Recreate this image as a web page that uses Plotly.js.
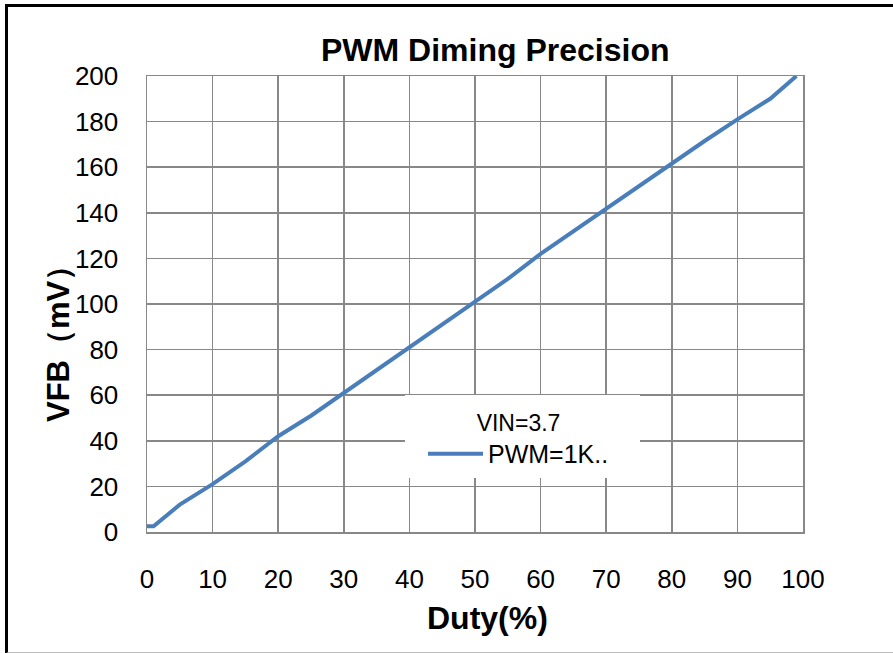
<!DOCTYPE html>
<html>
<head>
<meta charset="utf-8">
<script src="https://cdn.plot.ly/plotly-3.0.1.min.js"></script>
<style>
html,body{margin:0;padding:0;background:#fff;}
#wrap{position:relative;width:893px;height:653px;overflow:hidden;}
#chart{position:absolute;left:0;top:0;width:893px;height:653px;}
#frame{position:absolute;left:5px;top:4px;width:900px;height:645px;border-top:3px solid #000;border-left:3px solid #000;border-bottom:2px solid #bbb;pointer-events:none;}
</style>
</head>
<body>
<div id="wrap"><div id="chart"></div><div id="frame"></div></div>
<script>
const duty = [0, 1, 5, 10, 15, 20, 25, 30, 35, 40, 45, 50, 55, 60, 65, 70, 75, 80, 85, 90, 95, 99];
const vfb = [2.5, 2.5, 12, 21, 31, 42, 51, 61, 71, 81.5, 91, 101, 111, 122, 132, 142, 152, 162, 171.5, 181, 190, 200];
const xTicks = [0, 10, 20, 30, 40, 50, 60, 70, 80, 90, 100];
const yTicks = [0, 20, 40, 60, 80, 100, 120, 140, 160, 180, 200];
const seriesName = "PWM=1K..";
const legendTitle = "VIN=3.7";
const chartTitle = "PWM Diming Precision";
const xTitle = "Duty(%)";
const yTitle = "VFB（mV）";

const font = "Liberation Sans, Arial, sans-serif";
const trace = {
  x: duty, y: vfb, type: 'scatter', mode: 'lines', name: seriesName,
  line: {color: '#4a7ebb', width: 4}, cliponaxis: false
};
const W = 893, H = 653, L = 147, R = 90, T = 76, B = 121;
const pw = W - L - R, ph = H - T - B;
const px = v => (v - L) / pw;
const py = v => (532 - v) / ph;
const layout = {
  width: W, height: H,
  margin: {l: L, r: R, t: T, b: B},
  paper_bgcolor: '#fff', plot_bgcolor: '#fff',
  font: {family: font, size: 24, color: '#000'},
  showlegend: true,
  legend: {
    x: px(423), y: py(401), xanchor: 'left', yanchor: 'top',
    bgcolor: '#fff', borderwidth: 0,
    title: {text: legendTitle, side: 'top center', font: {size: 23, family: font}},
    font: {size: 25, family: font}, itemwidth: 55, tracegroupgap: 0
  },
  shapes: [
    {type: 'rect', xref: 'paper', yref: 'paper', layer: 'above',
     x0: px(405), x1: px(640), y0: py(478), y1: py(395),
     fillcolor: '#fff', line: {width: 0}}
  ],
  xaxis: {
    range: [0, 100], tickvals: xTicks, ticktext: xTicks.map(String),
    showgrid: true, gridcolor: '#888', gridwidth: 1.5,
    showline: true, linecolor: '#888', linewidth: 1.5, mirror: true,
    ticks: 'outside', ticklen: 23, tickcolor: 'rgba(0,0,0,0)',
    tickfont: {size: 26, family: font}, zeroline: false
  },
  yaxis: {
    range: [0, 200], tickvals: yTicks, ticktext: yTicks.map(String),
    showgrid: true, gridcolor: '#888', gridwidth: 1.5,
    showline: true, linecolor: '#888', linewidth: 1.5, mirror: true,
    ticks: 'outside', ticklen: 22, tickcolor: 'rgba(0,0,0,0)',
    tickfont: {size: 26, family: font}, zeroline: false
  },
  annotations: [
    {text: '<b>' + chartTitle + '</b>', xref: 'paper', yref: 'paper',
     x: px(495), y: py(50), xanchor: 'center', yanchor: 'middle',
     showarrow: false, font: {size: 32, family: font}},
    {text: '<b>' + xTitle + '</b>', xref: 'paper', yref: 'paper',
     x: px(487), y: py(618), xanchor: 'center', yanchor: 'middle',
     showarrow: false, font: {size: 32, family: font}},
    {text: '<b>' + yTitle + '</b>', xref: 'paper', yref: 'paper', textangle: -90,
     x: px(58), y: py(336), xanchor: 'center', yanchor: 'middle',
     showarrow: false, font: {size: 31, family: font}}
  ]
};
Plotly.newPlot('chart', [trace], layout, {displayModeBar: false, staticPlot: true});
</script>
</body>
</html>
